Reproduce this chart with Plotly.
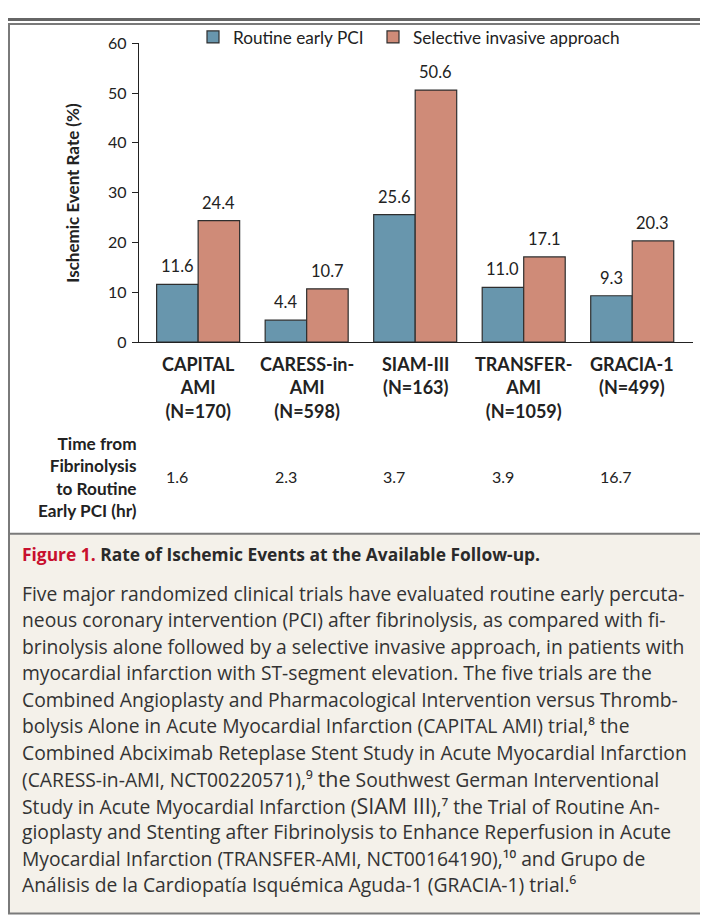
import plotly.graph_objects as go

# ---- data ----
trials = ["CAPITAL<br>AMI<br>(N=170)", "CARESS-in-<br>AMI<br>(N=598)", "SIAM-III<br>(N=163)",
          "TRANSFER-<br>AMI<br>(N=1059)", "GRACIA-1<br>(N=499)"]
routine_early = [11.6, 4.4, 25.6, 11.0, 9.3]
selective_invasive = [24.4, 10.7, 50.6, 17.1, 20.3]
time_to_pci = ["1.6", "2.3", "3.7", "3.9", "16.7"]
y_ticks = [0, 10, 20, 30, 40, 50, 60]

caption_title_red = "Figure 1."
caption_title = "Rate of Ischemic Events at the Available Follow-up."
BIG = "<span style='font-size:21.5px'>{}</span>"
caption_lines = [
    "Five major randomized clinical trials have evaluated routine early percuta-",
    "neous coronary intervention (PCI) after fibrinolysis, as compared with fi-",
    "brinolysis alone followed by a selective invasive approach, in patients with",
    "myocardial infarction with ST-segment elevation. The five trials are the",
    "Combined Angioplasty and Pharmacological Intervention versus Thromb-",
    "bolysis Alone in Acute Myocardial Infarction (CAPITAL AMI) trial,⁸ the",
    "Combined Abciximab Reteplase Stent Study in Acute Myocardial Infarction",
    "(CARESS-in-AMI, NCT00220571),⁹ " + BIG.format("the") + " Southwest German Interventional",
    "Study in Acute Myocardial Infarction (" + BIG.format("SIAM III") + "),⁷ the Trial of Routine An-",
    "gioplasty and Stenting after Fibrinolysis to Enhance Reperfusion in Acute",
    "Myocardial Infarction (TRANSFER-AMI, NCT00164190),¹⁰ and Grupo de",
    "Análisis de la Cardiopatía Isquémica Aguda-1 (GRACIA-1) trial.⁶",
]

OFFX = 8
W, H = 708 - 2 * OFFX, 919
YA, YS = 17.7, 0.983   # observed placement of the page in the snapshot
BLUE = "#6896ad"
RED = "#cf8b78"
EDGE = "#2e2e2e"
CHART = "Lato, sans-serif"
BODY = "Open Sans, Noto Sans, sans-serif"

def fy(p):
    return (p - YA) / YS

def py(p):
    return 1 - fy(p) / H

def px(p):
    return (p - OFFX) / W

xs = list(range(len(trials)))
BARGAP = 0.235
bw = (1 - BARGAP) / 2

fig = go.Figure()
fig.add_trace(go.Bar(x=xs, y=routine_early, name="Routine early PCI", legend="legend",
                     marker=dict(color=BLUE, line=dict(color=EDGE, width=1.2))))
fig.add_trace(go.Bar(x=xs, y=selective_invasive, name="Selective invasive approach", legend="legend2",
                     marker=dict(color=RED, line=dict(color=EDGE, width=1.2))))

ann = []
for i in xs:
    for val, off in ((routine_early[i], -bw / 2), (selective_invasive[i], bw / 2)):
        ann.append(dict(x=i + off, y=val, xref="x", yref="y", text=f"{val:.1f}",
                        showarrow=False, yanchor="bottom", yshift=6,
                        font=dict(family=CHART, size=16.5, color="#222")))
    ann.append(dict(x=i, y=py(352), xref="x", yref="paper", text="<b>" + trials[i] + "</b>",
                    showarrow=False, yanchor="top", align="center",
                    font=dict(family=CHART, size=18, color="#222")))
    ann.append(dict(x=i - bw + 0.07, y=py(478), xref="x", yref="paper", text=time_to_pci[i],
                    showarrow=False, xanchor="left", yanchor="middle",
                    font=dict(family=CHART, size=16, color="#222")))

ann.append(dict(x=px(139), y=py(478), xref="paper", yref="paper",
                text="<b>Time from<br>Fibrinolysis<br>to Routine<br>Early PCI (hr)</b>",
                showarrow=False, xanchor="right", yanchor="middle", align="right",
                font=dict(family=CHART, size=17.2, color="#222")))
ann.append(dict(x=px(73), y=py(193), xref="paper", yref="paper",
                text="<b>Ischemic Event Rate (%)</b>", textangle=-90,
                showarrow=False, xanchor="center", yanchor="middle",
                font=dict(family=CHART, size=17, color="#222")))

# caption
ann.append(dict(x=px(20), y=py(556), xref="paper", yref="paper",
                text=f"<b><span style='color:#c8102e'>{caption_title_red}</span> {caption_title}</b>",
                showarrow=False, xanchor="left", yanchor="middle",
                font=dict(family=BODY, size=17.4, color="#2a2a2a")))
for k, line in enumerate(caption_lines):
    ann.append(dict(x=px(20), y=py(595 + k * 26.6), xref="paper", yref="paper",
                    text=line, showarrow=False, xanchor="left", yanchor="middle",
                    font=dict(family=BODY, size=19.3, color="#333")))

shapes = [
    dict(type="rect", xref="paper", yref="paper", x0=px(5), x1=1.02, y0=py(536), y1=py(916),
         fillcolor="#f4f1ea", line=dict(width=0), layer="below"),
    dict(type="line", xref="paper", yref="paper", x0=0, x1=1, y0=1 - 1.5 / H, y1=1 - 1.5 / H,
         line=dict(color="#666", width=3)),
    dict(type="rect", xref="paper", yref="paper", x0=px(9), x1=1.02, y0=py(916.5),
         y1=1 - 6 / H, line=dict(color="#7a7a7a", width=2)),
    dict(type="line", xref="paper", yref="paper", x0=px(9), x1=1.02, y0=py(535.5), y1=py(535.5),
         line=dict(color="#7a7a7a", width=2)),
]

legend_common = dict(orientation="h", yanchor="middle", xanchor="left",
                     font=dict(family=CHART, size=17.2, color="#222"), bgcolor="rgba(0,0,0,0)")
fig.update_layout(
    width=W, height=H, margin=dict(l=0, r=0, t=0, b=0),
    paper_bgcolor="white", plot_bgcolor="rgba(0,0,0,0)",
    barmode="group", bargap=BARGAP, bargroupgap=0,
    showlegend=True,
    legend=dict(x=px(193), y=py(37), **legend_common),
    legend2=dict(x=px(373), y=py(37), **legend_common),
    xaxis=dict(domain=[px(139), px(693)], range=[-0.545, 4.56], showticklabels=False,
               showgrid=False, zeroline=False, showline=True, linecolor="#222", linewidth=1.3,
               ticks="", fixedrange=True),
    yaxis=dict(domain=[py(343), py(43)], range=[0, 60], tickvals=y_ticks, ticks="outside",
               ticklen=6, tickwidth=1.3, tickcolor="#222", showline=True, linecolor="#222",
               linewidth=1.3, showgrid=False, zeroline=False,
               tickfont=dict(family=CHART, size=16, color="#222"), ticklabelstandoff=2),
    annotations=ann, shapes=shapes,
)

fig.write_html("out.html")
